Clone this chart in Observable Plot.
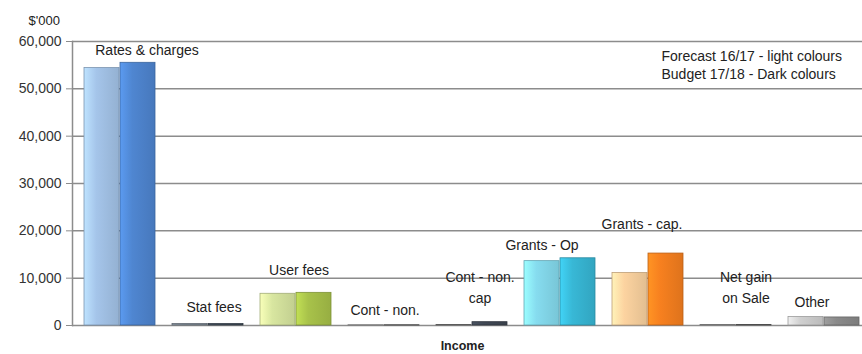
<!DOCTYPE html>
<html>
<head>
<meta charset="utf-8">
<script src="https://cdn.jsdelivr.net/npm/d3@7"></script>
<script src="https://cdn.jsdelivr.net/npm/@observablehq/plot@0.6"></script>
<style>
  body { margin: 0; background: #fff; }
  svg { display: block; }
</style>
</head>
<body>
<div id="chart"></div>
<script>
// Income by source, $'000
const categories = [
  "Rates & charges", "Stat fees", "User fees", "Cont - non.", "Cont - non. cap",
  "Grants - Op", "Grants - cap.", "Net gain on Sale", "Other"
];
const forecast1617 = [54400, 300, 6700, 50, 100, 13600, 11100, 100, 1800];
const budget1718   = [55500, 300, 6900, 50, 700, 14200, 15200, 100, 1700];
const yTicks = [0, 10000, 20000, 30000, 40000, 50000, 60000];
const categoryLabels = [
  "Rates & charges", "Stat fees", "User fees", "Cont - non.", "Cont - non.\ncap",
  "Grants - Op", "Grants - cap.", "Net gain\non Sale", "Other"
];
const legendLines = ["Forecast 16/17 - light colours", "Budget 17/18 - Dark colours"];

// [light, dark] base colour for each category
const palette = [
  ["#a5c5ea", "#4f86d1"],
  ["#7d8894", "#3f4a56"],
  ["#d8e6a0", "#a8c24a"],
  ["#9a9a9a", "#5a5a5a"],
  ["#7a7a7a", "#404854"],
  ["#86dcef", "#38b8d6"],
  ["#fcd3a0", "#f7801f"],
  ["#9a9a9a", "#666666"],
  ["#d0d0d0", "#8a8a8a"]
];

// where each category name sits: height in $'000 and horizontal nudge in px
const labelPlacement = [
  {y: 58500, dx: 27},
  {y: 4200, dx: 6},
  {y: 12000, dx: 3},
  {y: 3600, dx: 1},
  {y: 8300, dx: 8},
  {y: 17300, dx: -18},
  {y: 21800, dx: -6},
  {y: 8300, dx: 10},
  {y: 5300, dx: -12}
];

const rows = categories.flatMap((c, i) => [
  {category: c, i, series: "light", value: forecast1617[i]},
  {category: c, i, series: "dark", value: budget1718[i]}
]);
const labels = categories.map((c, i) => ({category: c, text: categoryLabels[i], ...labelPlacement[i]}));

const gradId = d => `g${d.i}${d.series}`;

// horizontal shading that gives the columns a rounded look
function gradientDefs() {
  const defs = d3.create("svg:defs");
  palette.forEach((pair, i) => {
    ["light", "dark"].forEach((s, k) => {
      const base = d3.color(pair[k]);
      const g = defs.append("linearGradient").attr("id", `g${i}${s}`)
        .attr("x1", 0).attr("x2", 1).attr("y1", 0).attr("y2", 0);
      g.append("stop").attr("offset", "0").attr("stop-color", base.brighter(0.4).formatHex());
      g.append("stop").attr("offset", "0.35").attr("stop-color", base.formatHex());
      g.append("stop").attr("offset", "1").attr("stop-color", base.darker(0.3).formatHex());
    });
  });
  return defs.node();
}

const font = "'Liberation Sans', Arial, sans-serif";

const chart = Plot.plot({
  width: 862,
  height: 354,
  marginTop: 41,
  marginBottom: 29,
  marginLeft: 72,
  marginRight: 0,
  style: {fontFamily: font, fontSize: "14px", color: "#222", background: "#fff"},
  x: {domain: categories, range: [72.7, 870.5], paddingInner: 0.19, paddingOuter: 0.095, axis: null},
  y: {domain: [0, 60000], axis: null},
  color: {type: "identity"},
  marks: [
    gradientDefs,
    Plot.ruleY(yTicks, {stroke: "#8c8c8c", strokeWidth: 1.5}),
    Plot.frame({anchor: "left", stroke: "#8c8c8c", strokeWidth: 1.5}),
    Plot.axisY({
      ticks: yTicks, tickFormat: d3.format(","), tickSize: 6, tickPadding: 5,
      label: null, stroke: "#8c8c8c", fill: "#333", fontSize: 14
    }),
    Plot.barY(rows.filter(d => d.series === "light"), {
      x: "category", y: "value", insetRight: 36,
      fill: d => `url(#${gradId(d)})`,
      stroke: d => d3.color(palette[d.i][0]).darker(0.8).formatHex(), strokeWidth: 0.8
    }),
    Plot.barY(rows.filter(d => d.series === "dark"), {
      x: "category", y: "value", insetLeft: 36,
      fill: d => `url(#${gradId(d)})`,
      stroke: d => d3.color(palette[d.i][1]).darker(0.8).formatHex(), strokeWidth: 0.8
    }),
    ...labels.map(l => Plot.text([l], {
      x: "category", y: "y", text: "text", dx: l.dx,
      lineHeight: 1.5, fontSize: 14, fill: "#222"
    })),
    Plot.text([legendLines.join("\n")], {
      frameAnchor: "top-left", textAnchor: "start", lineAnchor: "middle", dx: 589, dy: 23,
      lineHeight: 1.3, fontSize: 14, fill: "#222"
    }),
    Plot.text(["$'000"], {frameAnchor: "top-left", lineAnchor: "middle", dx: -44, dy: -21, fontSize: 13, fill: "#222"}),
    Plot.text(["Income"], {frameAnchor: "bottom", lineAnchor: "middle", dx: -5, dy: 20, fontSize: 12.5, fontWeight: "bold", fill: "#222"})
  ]
});

document.getElementById("chart").append(chart);
</script>
</body>
</html>
